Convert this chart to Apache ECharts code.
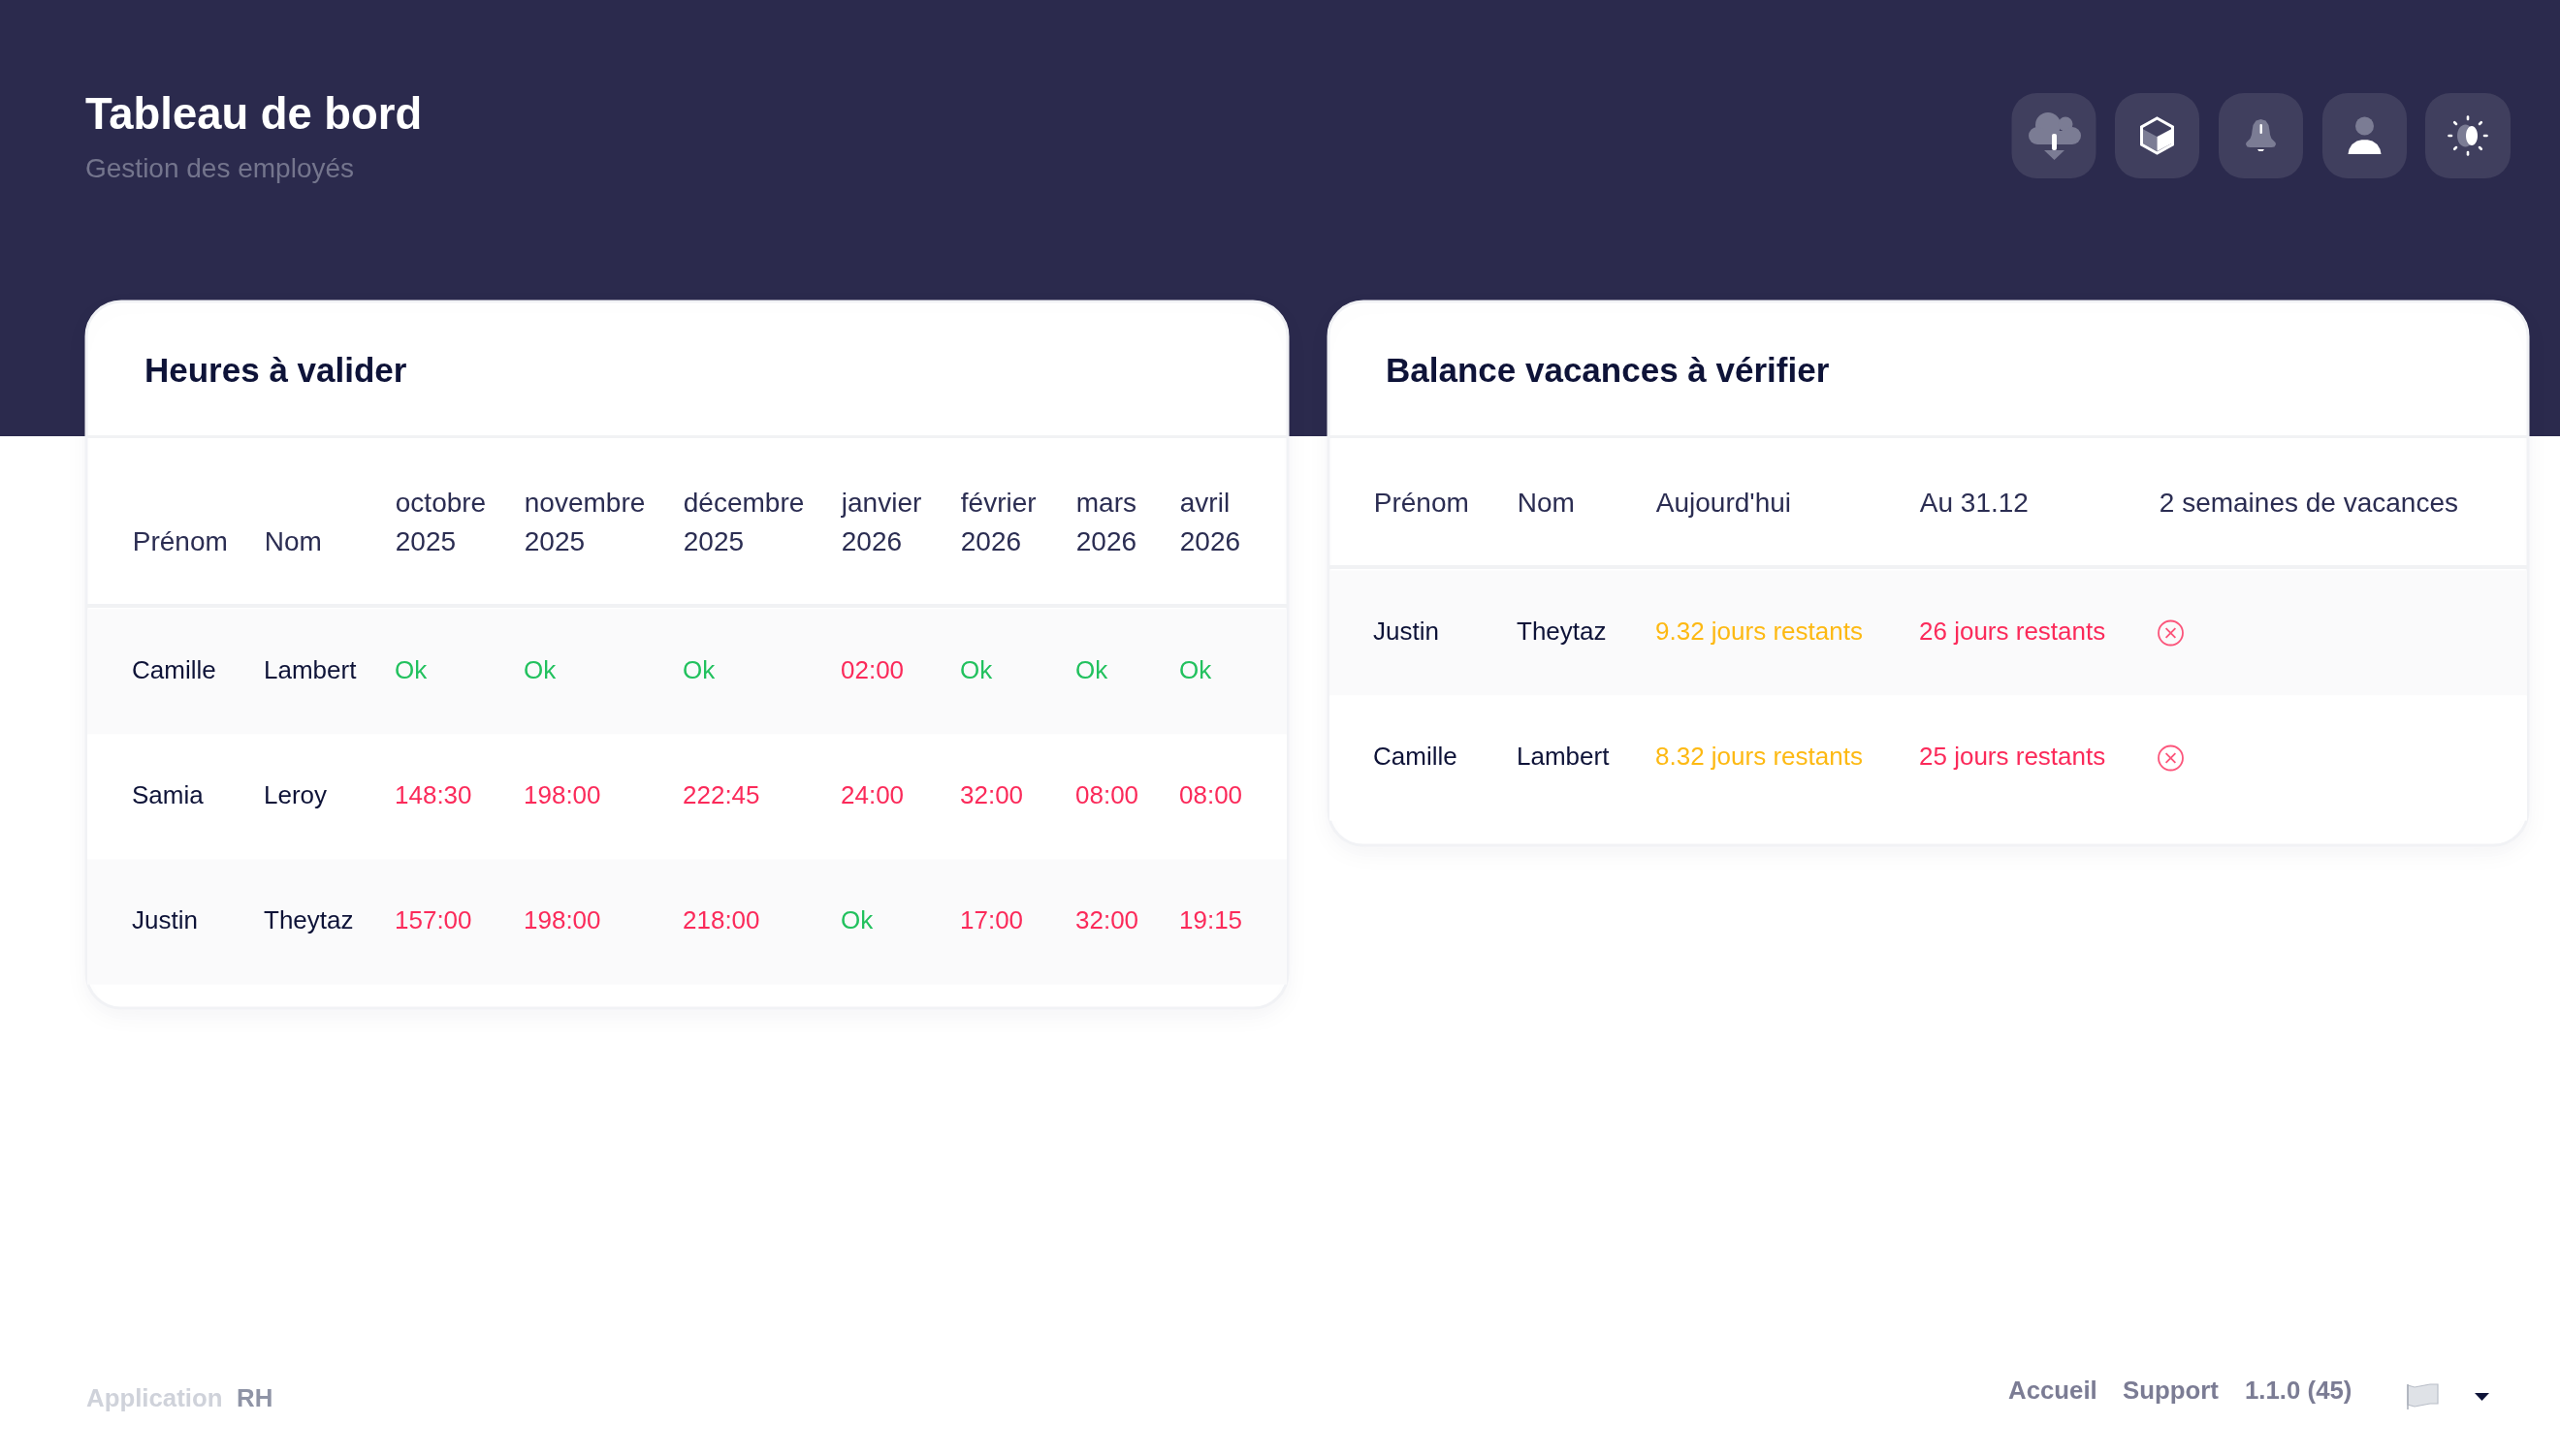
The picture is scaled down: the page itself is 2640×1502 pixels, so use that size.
<!DOCTYPE html>
<html><head><meta charset="utf-8">
<style>html,body{margin:0;padding:0;background:#fff}#c{width:2640px;height:1502px}</style>
<script src="https://cdn.jsdelivr.net/npm/echarts@6/dist/echarts.min.js"></script>
</head><body><div id="c"></div>
<script>
// ---- data ----
const pageTitle = 'Tableau de bord';
const pageSubtitle = 'Gestion des employés';
const hoursTitle = 'Heures à valider';
const balanceTitle = 'Balance vacances à vérifier';
const hoursHeaders = ['\nPrénom', '\nNom', 'octobre\n2025', 'novembre\n2025', 'décembre\n2025', 'janvier\n2026', 'février\n2026', 'mars\n2026', 'avril\n2026'];
const hoursFirstNames = ['Camille', 'Samia', 'Justin'];
const hoursLastNames = ['Lambert', 'Leroy', 'Theytaz'];
const hoursCamille = ['Ok', 'Ok', 'Ok', '02:00', 'Ok', 'Ok', 'Ok'];
const hoursSamia = ['148:30', '198:00', '222:45', '24:00', '32:00', '08:00', '08:00'];
const hoursJustin = ['157:00', '198:00', '218:00', 'Ok', '17:00', '32:00', '19:15'];
const balanceHeaders = ['Prénom', 'Nom', "Aujourd'hui", 'Au 31.12', '2 semaines de vacances'];
const balanceFirstNames = ['Justin', 'Camille'];
const balanceLastNames = ['Theytaz', 'Lambert'];
const balanceToday = ['9.32 jours restants', '8.32 jours restants'];
const balanceYearEnd = ['26 jours restants', '25 jours restants'];
const footerLeft = ['Application', 'RH'];
const footerRight = ['Accueil', 'Support', '1.1.0 (45)'];

// ---- layout & style (separate from data) ----
const C = {navy:'#2b2a4d', btn:'#403f5e', grey:'#7b7c94', ink:'#0e1338', head:'#2b2d52', red:'#fb2a5a', amber:'#fdb913', green:'#22c15e', line:'#f1f2f4', stripe:'#fafafb'};
const FONT = '"Liberation Sans", Helvetica, Arial, sans-serif';
const SIZE = 26;
const HEAD_SIZE = 28;
const hoursColWidths = [179, 135, 133, 164, 163, 123, 119, 107, 114];
const balanceColWidths = [190, 143, 272, 247, 383];
const hoursRowHeights = [129, 129, 129];
const balanceRowHeights = [129, 129];

function rowStripe(row){ return row % 2 === 0 ? C.stripe : '#ffffff'; }
function statusColor(v){ return v === 'Ok' ? C.green : C.red; }
function cell(col, row, text, color, inset) {
  return {coord:[col,row], value:text, itemStyle:{color:rowStripe(row),borderWidth:0},
    label:{color:color, position:[inset,'50%'], align:'left', verticalAlign:'middle', overflow:'none'}};
}

const hoursGrid = [hoursCamille, hoursSamia, hoursJustin];
const hoursBody = [];
hoursFirstNames.forEach((n,r)=>{
  hoursBody.push(cell(0,r,n,C.ink,43));
  hoursBody.push(cell(1,r,hoursLastNames[r],C.ink,0));
  hoursGrid[r].forEach((v,i)=>hoursBody.push(cell(i+2,r,v,statusColor(v),0)));
});
const balanceBody = [];
balanceFirstNames.forEach((n,r)=>{
  balanceBody.push(cell(0,r,n,C.ink,42));
  balanceBody.push(cell(1,r,balanceLastNames[r],C.ink,0));
  balanceBody.push(cell(2,r,balanceToday[r],C.amber,0));
  balanceBody.push(cell(3,r,balanceYearEnd[r],C.red,0));
  balanceBody.push(cell(4,r,'',C.red,0));
});

function matrixOf(headers, widths, rowNames, rowHeights, body, left, top, headH, firstInset) {
  return {
    z:1,
    left:left, top:top, width:widths.reduce((a,b)=>a+b,0), height:headH+rowHeights.reduce((a,b)=>a+b,0),
    backgroundStyle:{color:'transparent',borderWidth:0},
    x:{ levelSize:headH, dividerLineStyle:{width:0}, itemStyle:{color:'transparent',borderWidth:0},
        label:{color:C.head, fontFamily:FONT, fontSize:HEAD_SIZE, lineHeight:40},
        data:headers.map((h,i)=>({value:h, size:widths[i], label:{color:C.head, align:'left', verticalAlign:'middle', overflow:'none', lineHeight:40,
            position:[(i===0?firstInset:0)+0.8, '50%']}})) },
    y:{ show:false, data:rowNames.map((n,i)=>({value:n,size:rowHeights[i]})), dividerLineStyle:{width:0} },
    body:{ data:body, itemStyle:{color:'transparent',borderWidth:0}, label:{fontFamily:FONT, fontSize:SIZE} },
    corner:{ itemStyle:{color:'transparent',borderWidth:0} }
  };
}

const crossPath = 'path://M12 0.5a11.5 11.5 0 1 0 0 23a11.5 11.5 0 1 0 0-23M7.5 7.5L16.5 16.5M16.5 7.5L7.5 16.5';

function txt(x,y,text,size,weight,color){
  return {type:'text',x:x,y:y,z:20,style:{text:text,fill:color,font:(weight||'normal')+' '+size+'px '+FONT,textAlign:'left',textVerticalAlign:'middle',verticalAlign:'middle'}};
}
function card(x,y,w,h){
  return {type:'rect',z:-5,shape:{x:x,y:y,width:w,height:h,r:36},style:{fill:'#fff',stroke:'#f1f2f5',lineWidth:3,shadowBlur:26,shadowOffsetY:8,shadowColor:'rgba(30,30,70,0.045)'}};
}
function hline(x,y,w,h){ return {type:'rect',z:20,shape:{x:x,y:y,width:w,height:h},style:{fill:C.line}}; }
function btn(cx,w,children){
  return {type:'group',x:cx,y:140,children:[{type:'rect',z:5,shape:{x:-w/2,y:-44,width:w,height:88,r:26},style:{fill:C.btn}}].concat(children)};
}
const W={fill:'#fff'}, G={fill:C.grey};
function Poly(points,s,smooth){return {type:'polygon',z:6,shape:{points:points,smooth:smooth||0},style:s};}
const rays=[0,45,90,135,180,225,270,315].map(a=>{const t=a*Math.PI/180;return {type:'line',z:6,shape:{x1:17*Math.cos(t),y1:17*Math.sin(t),x2:19.5*Math.cos(t),y2:19.5*Math.sin(t)},style:{stroke:'#fff',lineWidth:2.6,lineCap:'round'}};});

const graphics = [
  {type:'rect',z:-10,shape:{x:0,y:0,width:2640,height:450},style:{fill:C.navy}},
  card(89,311,1239,729),
  card(1370,311,1237,561),
  hline(90,449,1237,3), hline(1371,449,1235,3),
  hline(90,623,1237,4), hline(1371,583,1235,4),
  txt(149,384,hoursTitle,35,'bold',C.ink),
  txt(1429,384,balanceTitle,35,'bold',C.ink),
  btn(2118,87,[
    {type:'circle',z:6,shape:{cx:-6,cy:-11,r:13},style:G},{type:'circle',z:6,shape:{cx:12,cy:-12,r:7.5},style:G},
    {type:'circle',z:6,shape:{cx:-17,cy:0,r:9},style:G},{type:'circle',z:6,shape:{cx:19,cy:0,r:9},style:G},
    {type:'rect',z:6,shape:{x:-17,y:-5,width:36,height:14},style:G},
    {type:'rect',z:7,shape:{x:-2,y:-2,width:5,height:17,r:2},style:W},
    Poly([[-10,15],[11,15],[0.5,25]],G)]),
  btn(2224.5,87,[
    Poly([[-15,-7],[0,1],[0,16],[-15,8]],G), Poly([[0,1],[15,-7],[15,8],[0,16]],W),
    {type:'polygon',z:7,shape:{points:[[0,-18],[16,-9],[16,9],[0,18],[-16,9],[-16,-9]]},style:{fill:'none',stroke:'#fff',lineWidth:3}}]),
  btn(2331.5,87,[
    Poly([[0,-17],[5,-15.5],[8,-11],[9,-5],[9.5,-1],[11,3],[15,7],[15.5,9],[14,11.5],[11,12],[-11,12],[-14,11.5],[-15.5,9],[-15,7],[-11,3],[-9.5,-1],[-9,-5],[-8,-11],[-5,-15.5]],G),
    {type:'rect',z:7,shape:{x:-1,y:-12,width:2.4,height:10,r:1},style:W},
    Poly([[-3.5,14],[3.5,14],[2,16],[-2,16]],W)]),
  btn(2438.5,87,[
    {type:'circle',z:6,shape:{cx:0,cy:-10,r:9.5},style:G},
    Poly([[-17,19],[-16,14],[-13,9],[-8,5.5],[-3,4.2],[3,4.2],[8,5.5],[13,9],[16,14],[17,19]],W)]),
  btn(2545,88,[
    ...rays,
    {type:'ellipse',z:6,shape:{cx:-2.5,cy:0,rx:8.5,ry:11.5},style:G},
    {type:'ellipse',z:7,shape:{cx:4,cy:0,rx:6,ry:10},style:W}]),
  txt(89,1443.5,footerLeft[0],25.8,'bold','#cfd2da'),
  txt(244,1443.5,footerLeft[1],25.8,'bold','#8f94a6'),
  txt(2071,1435.5,footerRight[0],25.8,'bold',C.grey),
  txt(2189,1435.5,footerRight[1],25.8,'bold',C.grey),
  txt(2315,1435.5,footerRight[2],25.8,'bold',C.grey),
  Poly([[2483,1429],[2490,1431],[2498,1429.5],[2506,1428],[2514,1428],[2514,1448],[2506,1448],[2498,1449.5],[2490,1451],[2483,1449]],{fill:'#dfe2e7',stroke:'#b9bec8',lineWidth:1.2}),
  {type:'line',z:6,shape:{x1:2483,y1:1428,x2:2483,y2:1454},style:{stroke:'#a9aeb8',lineWidth:1.5}},
  Poly([[2552,1437],[2567,1437],[2559.5,1445]],{fill:C.ink})
];

const chart = echarts.init(document.getElementById('c'));
chart.setOption({
  backgroundColor:'#ffffff',
  animation:false,
  title:{text:pageTitle,subtext:pageSubtitle,left:88,top:98,padding:0,itemGap:18.5,
    textStyle:{color:'#fff',fontFamily:FONT,fontWeight:'bold',fontSize:45.4},
    subtextStyle:{color:'#74758d',fontFamily:FONT,fontSize:28}},
  graphic:{elements:graphics},
  matrix:[
    matrixOf(hoursHeaders,hoursColWidths,hoursFirstNames,hoursRowHeights,hoursBody,90,451.5,177,43),
    matrixOf(balanceHeaders,balanceColWidths,balanceFirstNames,balanceRowHeights,balanceBody,1371,451.5,137,42)
  ],
  series:[{
    type:'scatter',coordinateSystem:'matrix',matrixIndex:1,z:5,
    symbol:crossPath,symbolSize:25,symbolOffset:[-(balanceColWidths[4]/2-15.5),0],
    itemStyle:{color:'none',borderColor:C.red,borderWidth:1.8},
    data:balanceFirstNames.map(n=>[balanceHeaders[4],n])
  }]
});
</script></body></html>
